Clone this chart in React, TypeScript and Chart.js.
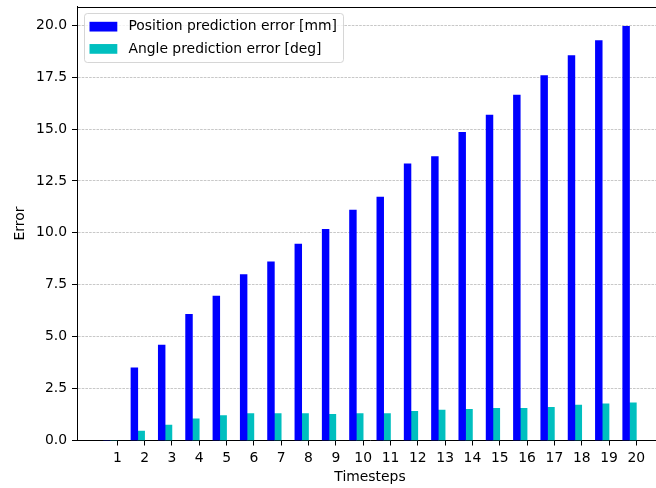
import React, { useEffect, useRef } from "react";
import { Chart, registerables } from "chart.js";

Chart.register(...registerables);

// Prediction error per timestep
const timesteps = [1, 2, 3, 4, 5, 6, 7, 8, 9, 10, 11, 12, 13, 14, 15, 16, 17, 18, 19, 20];
const positionError = [0, 3.5, 4.6, 6.07, 6.95, 7.99, 8.6, 9.46, 10.17, 11.1, 11.72, 13.32, 13.67, 14.84, 15.67, 16.64, 17.57, 18.54, 19.26, 19.95];
const angleError = [0, 0.45, 0.74, 1.04, 1.2, 1.3, 1.3, 1.3, 1.26, 1.3, 1.3, 1.41, 1.46, 1.5, 1.55, 1.55, 1.6, 1.7, 1.76, 1.81];
const yTicks = [0, 2.5, 5, 7.5, 10, 12.5, 15, 17.5, 20];

const seriesLabels = ["Position prediction error [mm]", "Angle prediction error [deg]"];
const seriesColors = ["#0000ff", "#00bfbf"];

const FONT_FAMILY = "'DejaVu Sans', sans-serif";
const FONT_SIZE = 13.9;
const BAR_WIDTH = 0.25; // in x-axis units

// Top spine plus a boxed legend in the upper-left corner of the plot area
const frameAndLegend = {
  id: "frameAndLegend",
  afterDraw(chart: any) {
    const { ctx, chartArea } = chart;
    ctx.save();
    ctx.strokeStyle = "#000";
    ctx.lineWidth = 1;
    ctx.beginPath();
    ctx.moveTo(chartArea.left, Math.round(chartArea.top) + 0.5);
    ctx.lineTo(chartArea.right, Math.round(chartArea.top) + 0.5);
    ctx.stroke();

    ctx.font = `${FONT_SIZE}px ${FONT_FAMILY}`;
    const pad = 0.4 * FONT_SIZE;
    const handleW = 2 * FONT_SIZE;
    const handleH = 0.7 * FONT_SIZE;
    const gap = 0.8 * FONT_SIZE;
    const rowH = 15.3;
    const spacing = 0.5 * FONT_SIZE;
    const items = chart.data.datasets;
    const textW = Math.max(...items.map((d: any) => ctx.measureText(d.label).width));
    const x0 = chartArea.left + 0.5 * FONT_SIZE;
    const y0 = chartArea.top + 0.5 * FONT_SIZE;
    const w = pad * 2 + handleW + gap + textW;
    const h = pad * 2 + items.length * rowH + (items.length - 1) * spacing;
    ctx.beginPath();
    ctx.roundRect(Math.round(x0) + 0.5, Math.round(y0) + 0.5, Math.round(w), Math.round(h), 3);
    ctx.fillStyle = "rgba(255,255,255,0.8)";
    ctx.fill();
    ctx.strokeStyle = "rgba(204,204,204,0.8)";
    ctx.lineWidth = 1;
    ctx.stroke();
    items.forEach((d: any, i: number) => {
      const cy = y0 + pad + rowH / 2 + i * (rowH + spacing);
      ctx.fillStyle = d.backgroundColor;
      ctx.fillRect(x0 + pad, cy - handleH / 2, handleW, handleH);
      ctx.fillStyle = "#000";
      ctx.textAlign = "left";
      ctx.textBaseline = "middle";
      ctx.fillText(d.label, x0 + pad + handleW + gap, cy);
    });
    ctx.restore();
  },
};

export default function App() {
  const canvasRef = useRef<HTMLCanvasElement>(null);

  useEffect(() => {
    const canvas = canvasRef.current;
    if (!canvas) return;
    const font = { family: FONT_FAMILY, size: FONT_SIZE };

    const chart = new Chart(canvas, {
      type: "bar",
      data: {
        datasets: [
          {
            label: seriesLabels[0],
            data: timesteps.map((t, i) => ({ x: t - 1.5 * BAR_WIDTH, y: positionError[i] })),
            backgroundColor: seriesColors[0],
            borderWidth: 0,
            barThickness: 6.8,
            grouped: false,
          },
          {
            label: seriesLabels[1],
            data: timesteps.map((t, i) => ({ x: t - 0.5 * BAR_WIDTH, y: angleError[i] })),
            backgroundColor: seriesColors[1],
            borderWidth: 0,
            barThickness: 6.8,
            grouped: false,
          },
        ],
      },
      options: {
        animation: false,
        responsive: false,
        devicePixelRatio: 1,
        layout: { padding: { top: 6.5, left: 0, right: 0, bottom: 0 } },
        plugins: { legend: { display: false }, tooltip: { enabled: false } },
        scales: {
          x: {
            type: "linear",
            min: -0.475,
            max: 20.975,
            offset: false,
            afterBuildTicks: (s: any) => {
              s.ticks = timesteps.map((v) => ({ value: v }));
            },
            afterFit: (s: any) => {
              s.height = 47.5;
              s.paddingLeft = 0;
              s.paddingRight = 0;
            },
            ticks: {
              font,
              color: "#000",
              padding: 5,
              maxRotation: 0,
              autoSkip: false,
              callback: (v: any) => String(v),
            },
            grid: { offset: false, drawOnChartArea: false, tickLength: 5, tickColor: "#000", tickWidth: 1 },
            border: { color: "#000", width: 1 },
            title: { display: true, text: "Timesteps", font, color: "#000", padding: { top: 0, bottom: 2 } },
          },
          y: {
            type: "linear",
            min: 0,
            max: 20.9,
            afterBuildTicks: (s: any) => {
              s.ticks = yTicks.map((v) => ({ value: v }));
            },
            afterFit: (s: any) => {
              s.width = 77;
              s.paddingTop = 0;
              s.paddingBottom = 0;
            },
            ticks: {
              font,
              color: "#000",
              padding: 5,
              callback: (v: any) => Number(v).toFixed(1),
            },
            grid: { color: "#b0b0b0", lineWidth: 0.7, tickLength: 5, tickColor: "#000", tickWidth: 1 },
            border: { color: "#000", width: 1, dash: [2.6, 1.1] },
            title: { display: true, text: "Error", font, color: "#000", padding: { top: 11.7, bottom: 0 } },
          },
        },
      },
      plugins: [frameAndLegend],
    } as any);

    return () => chart.destroy();
  }, []);

  return (
    <div
      style={{
        position: "fixed",
        left: 0,
        top: 0,
        width: 656,
        height: 488,
        overflow: "hidden",
        background: "#fff",
      }}
    >
      <canvas ref={canvasRef} width={663} height={488} style={{ display: "block", width: 663, height: 488 }} />
    </div>
  );
}
